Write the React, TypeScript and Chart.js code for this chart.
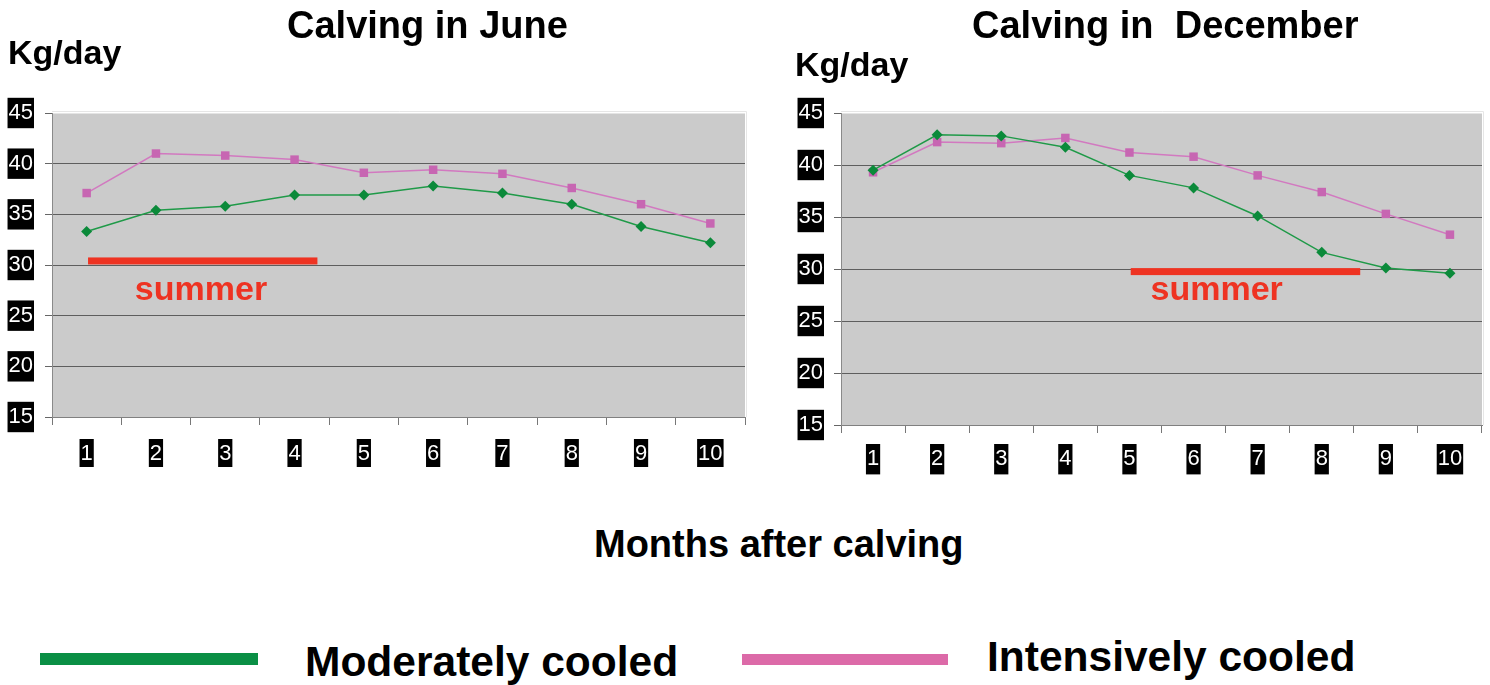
import React, { useEffect, useRef } from "react";
import { Chart, registerables } from "chart.js";

Chart.register(...registerables);

const months = ["1", "2", "3", "4", "5", "6", "7", "8", "9", "10"];
const yTicks = [15, 20, 25, 30, 35, 40, 45];

const juneModerate = [33.3, 35.4, 35.8, 36.9, 36.9, 37.8, 37.1, 36.0, 33.8, 32.2];
const juneIntensive = [37.1, 41.0, 40.8, 40.4, 39.1, 39.4, 39.0, 37.6, 36.0, 34.1];
const decModerate = [39.5, 42.9, 42.8, 41.7, 39.0, 37.8, 35.1, 31.6, 30.1, 29.6];
const decIntensive = [39.3, 42.2, 42.1, 42.6, 41.2, 40.8, 39.0, 37.4, 35.3, 33.3];

// summer annotation: [startIndex, endIndex, barValue, labelIndex, labelValue]
const juneSummer = [0.02, 3.33, 30.4, 1.65, 26.5];
const decSummer = [4.02, 7.6, 29.75, 5.36, 27.0];

const FONT = '"Liberation Sans", Arial, Helvetica, sans-serif';
const GREEN = "#0b8a3a";
const PINK = "#c766b2";
const RED = "#ee3322";

type Cfg = {
  moderate: number[];
  intensive: number[];
  summer: number[];
  width: number;
  height: number;
  yWidth: number;
  padding: { left: number; top: number; right: number; bottom: number };
  xHeight: number;
  xPad: number;
  yPad: number;
};

function LineChart(props: Cfg & { style: React.CSSProperties }) {
  const ref = useRef<HTMLCanvasElement | null>(null);
  useEffect(() => {
    if (!ref.current) return;
    const summer = props.summer;
    const bgPlugin = {
      id: "plotBg",
      beforeDraw(chart: any) {
        const { ctx, chartArea: a } = chart;
        ctx.save();
        ctx.fillStyle = "#cbcbcb";
        ctx.fillRect(a.left, a.top, a.right - a.left, a.bottom - a.top);
        ctx.strokeStyle = "#e6e6e6";
        ctx.lineWidth = 1;
        ctx.beginPath();
        ctx.moveTo(a.left, a.top - 1.5);
        ctx.lineTo(a.right + 1.5, a.top - 1.5);
        ctx.lineTo(a.right + 1.5, a.bottom);
        ctx.stroke();
        ctx.restore();
      },
    };
    const summerPlugin = {
      id: "summer",
      afterDatasetsDraw(chart: any) {
        const { ctx } = chart;
        const xs = chart.scales.x;
        const ys = chart.scales.y;
        const x0 = xs.getPixelForValue(summer[0]);
        const x1 = xs.getPixelForValue(summer[1]);
        const yb = ys.getPixelForValue(summer[2]);
        ctx.save();
        ctx.fillStyle = RED;
        ctx.fillRect(x0, yb - 3.5, x1 - x0, 7);
        ctx.font = `bold 34px ${FONT}`;
        ctx.textAlign = "center";
        ctx.textBaseline = "alphabetic";
        ctx.fillText("summer", xs.getPixelForValue(summer[3]), ys.getPixelForValue(summer[4]));
        ctx.restore();
      },
    };
    const chart = new Chart(ref.current, {
      type: "line",
      data: {
        labels: months,
        datasets: [
          {
            label: "Moderately cooled",
            data: props.moderate,
            borderColor: "#1f9a48",
            backgroundColor: GREEN,
            borderWidth: 1.5,
            pointStyle: "rectRot",
            pointRadius: 5.5,
            pointBorderWidth: 0,
            pointBackgroundColor: GREEN,
            tension: 0,
          },
          {
            label: "Intensively cooled",
            data: props.intensive,
            borderColor: "#d279c0",
            backgroundColor: PINK,
            borderWidth: 1.5,
            pointStyle: "rect",
            pointRadius: 6,
            pointBorderWidth: 0,
            pointBackgroundColor: PINK,
            tension: 0,
          },
        ],
      },
      options: {
        animation: false,
        responsive: false,
        devicePixelRatio: 1,
        layout: { padding: props.padding },
        plugins: {
          legend: { display: false },
          tooltip: { enabled: false },
          title: { display: false },
        },
        scales: {
          x: {
            type: "category",
            offset: true,
            afterFit: (s: any) => {
              s.height = props.xHeight;
            },
            grid: {
              offset: true,
              drawOnChartArea: false,
              drawTicks: true,
              tickLength: 8,
              color: "#777777",
            },
            border: { display: true, color: "#808080", width: 1 },
            ticks: {
              color: "#ffffff",
              font: { family: FONT, size: 22 },
              padding: props.xPad,
              showLabelBackdrop: true,
              backdropColor: "#000000",
              backdropPadding: { x: 1, y: 2 },
              maxRotation: 0,
              autoSkip: false,
            },
          },
          y: {
            min: 15,
            max: 45,
            afterFit: (s: any) => {
              s.width = props.yWidth;
            },
            afterBuildTicks: (s: any) => {
              s.ticks = yTicks.map((v) => ({ value: v }));
            },
            grid: {
              color: (c: any) => (c.tick && c.tick.value === 45 ? "#e4e4e4" : "#5e5e5e"),
              tickColor: "#666666",
              drawTicks: true,
              tickLength: 7,
              lineWidth: 1,
            },
            border: { display: true, color: "#8a8a8a", width: 1 },
            ticks: {
              color: "#ffffff",
              font: { family: FONT, size: 22 },
              padding: props.yPad,
              showLabelBackdrop: true,
              backdropColor: "#000000",
              backdropPadding: { x: 1, y: 2 },
            },
          },
        },
      },
      plugins: [bgPlugin, summerPlugin],
    } as any);
    return () => chart.destroy();
  }, []);
  return (
    <canvas
      ref={ref}
      width={props.width}
      height={props.height}
      style={{ ...props.style, width: props.width, height: props.height }}
    />
  );
}

const txt = (extra: React.CSSProperties): React.CSSProperties => ({
  position: "absolute",
  fontFamily: FONT,
  fontWeight: "bold",
  lineHeight: 1,
  whiteSpace: "pre",
  color: "#000",
  margin: 0,
  ...extra,
});

export default function App() {
  return (
    <div
      style={{
        position: "absolute",
        left: 0,
        top: 0,
        width: 1490,
        height: 685,
        background: "#fff",
        overflow: "hidden",
      }}
    >
      <LineChart
        moderate={juneModerate}
        intensive={juneIntensive}
        summer={juneSummer}
        width={760}
        height={480}
        yWidth={52}
        padding={{ left: 0, top: 113, right: 15, bottom: 13 }}
        xHeight={50}
        xPad={16}
        yPad={12}
        style={{ position: "absolute", left: 0, top: 0 }}
      />
      <LineChart
        moderate={decModerate}
        intensive={decIntensive}
        summer={decSummer}
        width={730}
        height={485}
        yWidth={81}
        padding={{ left: 0, top: 113, right: 8, bottom: 10 }}
        xHeight={50}
        xPad={13}
        yPad={11}
        style={{ position: "absolute", left: 760, top: 0 }}
      />
      <div style={txt({ left: 287, top: 6, fontSize: 38 })}>Calving in June</div>
      <div style={txt({ left: 972, top: 6, fontSize: 38 })}>Calving in  December</div>
      <div style={txt({ left: 8, top: 35, fontSize: 34 })}>Kg/day</div>
      <div style={txt({ left: 795, top: 47, fontSize: 34 })}>Kg/day</div>
      <div style={txt({ left: 594, top: 525, fontSize: 38 })}>Months after calving</div>
      <div style={{ position: "absolute", left: 40, top: 653, width: 218, height: 12, background: "#0a8f45" }} />
      <div style={txt({ left: 305, top: 641, fontSize: 42.5 })}>Moderately cooled</div>
      <div style={{ position: "absolute", left: 742, top: 654, width: 206, height: 11, background: "#dc6aa8" }} />
      <div style={txt({ left: 987, top: 636, fontSize: 42.5 })}>Intensively cooled</div>
    </div>
  );
}
